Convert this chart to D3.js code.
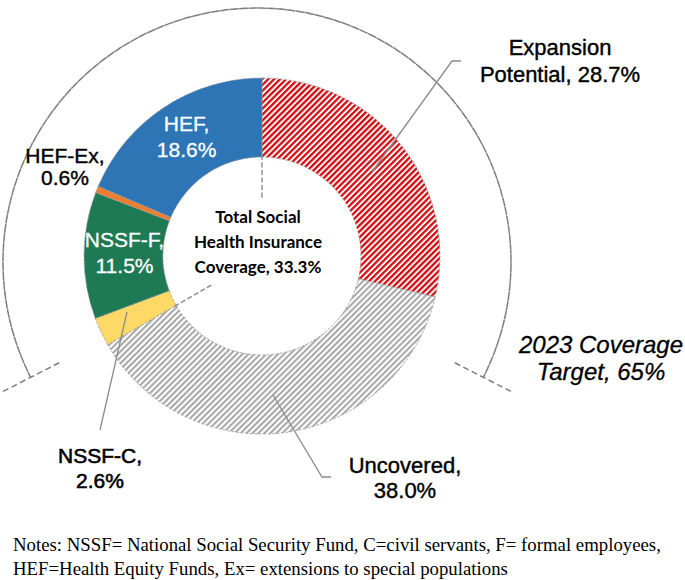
<!DOCTYPE html>
<html><head><meta charset="utf-8">
<script src="https://cdn.jsdelivr.net/npm/d3@7"></script>
<style>body{margin:0;background:#fff}svg{display:block}</style>
</head><body>
<svg id="c" width="685" height="580"></svg>
<script>
const categories = ["Expansion Potential", "Uncovered", "NSSF-C", "NSSF-F", "HEF-Ex", "HEF"];
const values = [28.7, 38.0, 2.6, 11.5, 0.6, 18.6];
const labelNames = ["Expansion", "Uncovered,", "NSSF-C,", "NSSF-F,", "HEF-Ex,", "HEF,"];
const coverageTotal = 33.3;
const target = 65;
const notes = ["Notes: NSSF= National Social Security Fund, C=civil servants, F= formal employees,",
               "HEF=Health Equity Funds, Ex= extensions to special populations"];

const svg = d3.select("#c");
const cx = 262, cy = 256, R = 178, r = 99;
const defs = svg.append("defs");
function hatch(id, color, bw) {
  const p = defs.append("pattern").attr("id", id).attr("patternUnits", "userSpaceOnUse")
    .attr("width", 4.2).attr("height", 4.2).attr("patternTransform", "rotate(45)");
  p.append("rect").attr("width", 4.2).attr("height", 4.2).attr("fill", "#fff");
  p.append("rect").attr("width", bw).attr("height", 4.2).attr("fill", color);
}
hatch("hr", "#d40d12", 2.3);
hatch("hg", "#a6a6a6", 2.0);
const fills = ["url(#hr)", "url(#hg)", "#ffd966", "#1e7a55", "#ed7d31", "#2e75b6"];

const pie = d3.pie().sort(null).value(d => d)(values);
const arc = d3.arc().innerRadius(r).outerRadius(R);
const g = svg.append("g").attr("transform", `translate(${cx},${cy})`);
g.selectAll("path.s").data(pie).join("path").attr("class", "s")
  .attr("d", arc).attr("fill", (d, i) => fills[i])
  .attr("stroke", "#9a9a9a").attr("stroke-width", 0.8).attr("stroke-dasharray", "3,1.5");

// dashed dividers inside the hole marking total coverage
const covAngles = [0, 2 * Math.PI * (1 - coverageTotal / 100)];
covAngles.forEach(a => {
  g.append("line")
    .attr("x1", Math.sin(a) * (r + 2)).attr("y1", -Math.cos(a) * (r + 2))
    .attr("x2", Math.sin(a) * (r - 42)).attr("y2", -Math.cos(a) * (r - 42))
    .attr("stroke", "#8a8a8a").attr("stroke-width", 1.4).attr("stroke-dasharray", "5,2.5");
});

// Target arc
const tcx = 257, tcy = 262, TR = 254;
const half = Math.PI * target / 100;
const tg = svg.append("g").attr("transform", `translate(${tcx},${tcy})`);
tg.append("path").attr("d", d3.arc().innerRadius(TR).outerRadius(TR).startAngle(-half).endAngle(half)())
  .attr("fill", "none").attr("stroke", "#7f7f7f").attr("stroke-width", 1.5).attr("stroke-dasharray", "6,3.5");
[-half, half].forEach(a => {
  tg.append("line")
    .attr("x1", Math.sin(a) * (TR - 32)).attr("y1", -Math.cos(a) * (TR - 32))
    .attr("x2", Math.sin(a) * (TR + 32)).attr("y2", -Math.cos(a) * (TR + 32))
    .attr("stroke", "#7f7f7f").attr("stroke-width", 1.5).attr("stroke-dasharray", "6,3.5");
});

// leader lines
const leader = pts => svg.append("polyline").attr("points", pts.map(p => p.join(",")).join(" "))
  .attr("fill", "none").attr("stroke", "#8c8c8c").attr("stroke-width", 1.3);
leader([[372, 172], [452, 61], [461, 61]]);
leader([[273, 395], [322, 477], [331, 477]]);
leader([[127, 312], [100, 430]]);

const fmt = v => v.toFixed(1) + "%";
function label(x, y, lines, opts) {
  const t = svg.append("text").attr("x", x).attr("y", y).attr("text-anchor", "middle")
    .attr("font-family", opts.family || "Liberation Sans, Arial, sans-serif")
    .attr("font-size", opts.size).attr("fill", opts.color || "#000")
    .attr("stroke", opts.stroke ? (opts.color || "#000") : null).attr("stroke-width", opts.stroke || null)
    .attr("font-weight", opts.weight || "normal").attr("font-style", opts.style || "normal");
  lines.forEach((l, i) => t.append("tspan").attr("x", x).attr("dy", i ? opts.lh : 0).text(l));
}
// inside labels from centroids
[5, 3].forEach(i => {
  const c = arc.centroid(pie[i]);
  label(cx + c[0] + 1, cy + c[1] - 9, [labelNames[i], fmt(values[i])], {size: 21, lh: 26, color: "#fff", stroke: 0.3});
});
label(560, 55, ["Expansion", "Potential, " + fmt(values[0])], {size: 22, lh: 27, stroke: 0.4});
label(405, 473, [labelNames[1], fmt(values[1])], {size: 22, lh: 25, stroke: 0.4});
label(100, 463, [labelNames[2], fmt(values[2])], {size: 21, lh: 25, stroke: 0.6});
label(65, 163, [labelNames[4], fmt(values[4])], {size: 21, lh: 22, stroke: 0.4});
label(258, 223, ["Total Social", "Health Insurance", "Coverage, " + fmt(coverageTotal)],
  {size: 17, lh: 25, weight: "bold", family: "Lato, sans-serif"});
label(601, 353, ["2023 Coverage", "Target, " + target + "%"], {size: 24, lh: 27, style: "italic", stroke: 0.3});

svg.append("g").selectAll("text").data(notes).join("text")
  .attr("x", 13).attr("y", (d, i) => 551 + i * 24)
  .attr("font-family", "Liberation Serif, Times New Roman, serif").attr("font-size", 18.8)
  .text(d => d);
</script>
</body></html>
